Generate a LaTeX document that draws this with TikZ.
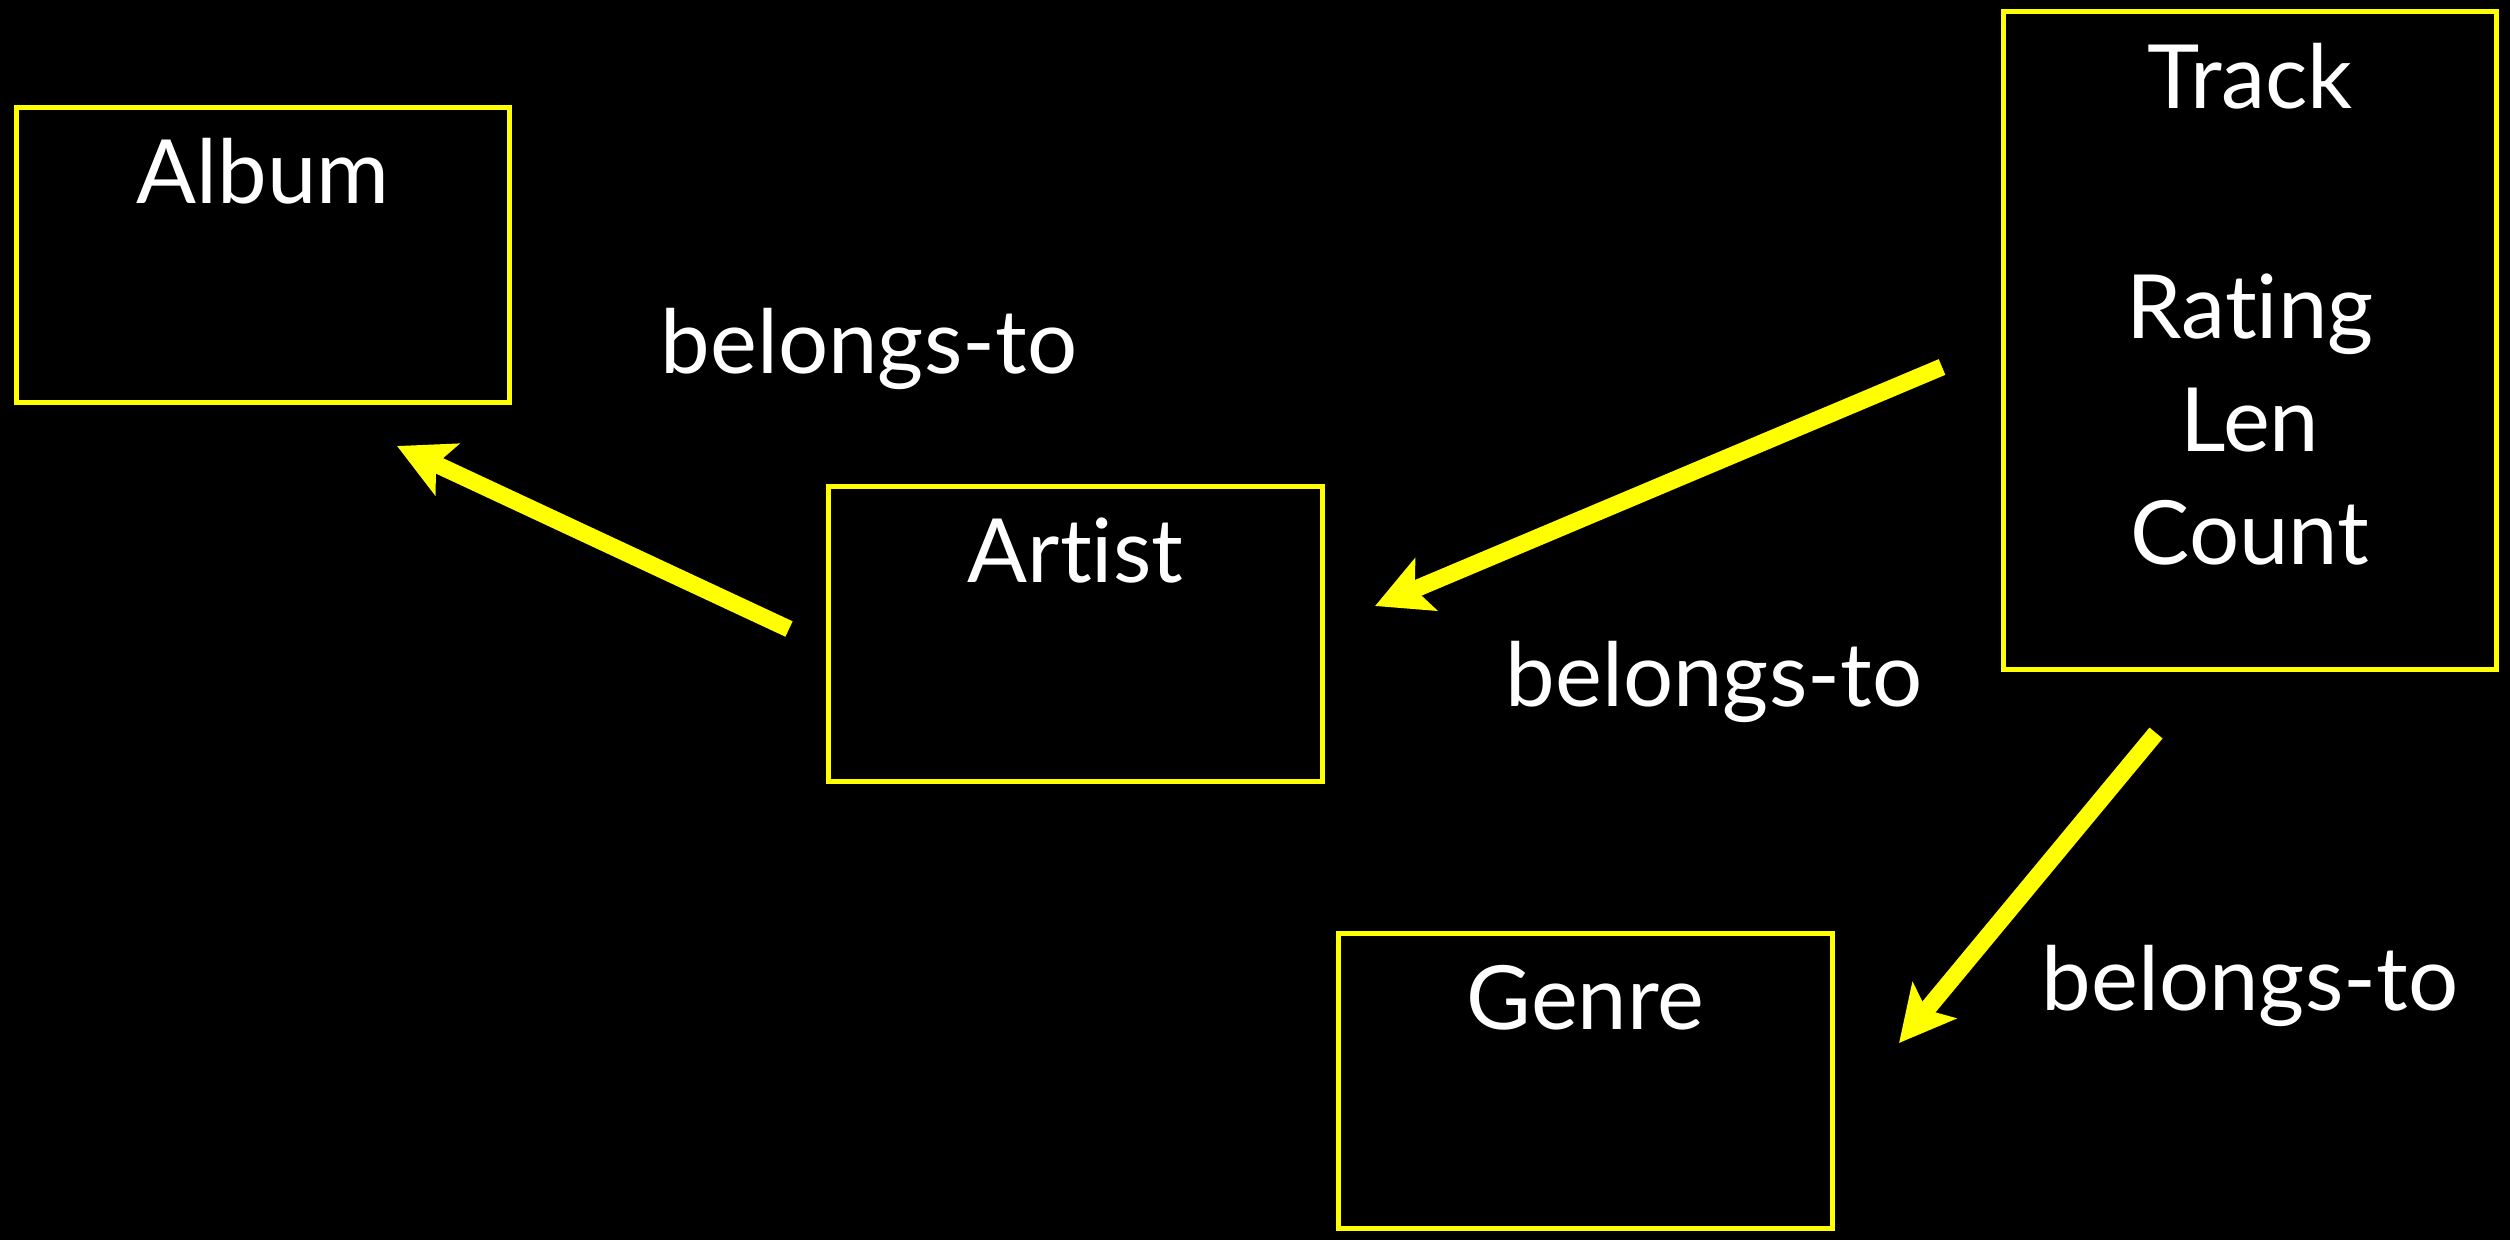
\documentclass[tikz,border=0pt]{standalone}
\usepackage{fontspec}
\setmainfont{Lato}[Ligatures={NoCommon,NoRequired,NoContextual}]
\usetikzlibrary{arrows.meta}
\definecolor{hl}{RGB}{255,255,0}
\begin{document}
\begin{tikzpicture}[x=0.01cm,y=-0.01cm,
  entity/.style={draw=hl, line width=0.05cm, fill=black, rectangle, inner sep=0pt, minimum width=4.935cm, minimum height=2.955cm},
  txt/.style={text=white, anchor=base, inner sep=0pt, font=\fontsize{25.2pt}{32pt}\selectfont},
  rel/.style={draw=hl, line width=0.17cm, -{Stealth[length=0.55cm, width=0.56cm, inset=0.12cm]}}
]
\useasboundingbox (0,0) rectangle (2510,1239);
\fill[black] (-20,-20) rectangle (2530,1259);

\node[entity] (album) at (263,255) {};
\node[entity] (artist) at (1075.5,634) {};
\node[entity] (genre) at (1585.5,1081) {};
\node[entity, minimum height=6.57cm] (track) at (2250,340.5) {};

\node[txt] (albumt) at (263,203) {Album};
\node[txt] (artistt) at (1075.5,582) {Artist};
\node[txt] (genret) at (1585.5,1029) {Genre};
\node[txt] (trackt) at (2250,108) {Track};
\node[txt] (rating) at (2250,338) {Rating};
\node[txt] (len) at (2250,451) {Len};
\node[txt] (count) at (2250,564) {Count};

\node[txt] (l1) at (869,373) {belongs-to};
\node[txt] (l2) at (1714,706) {belongs-to};
\node[txt] (l3) at (2250,1010) {belongs-to};

\coordinate (a1s) at (789,629);
\coordinate (a1e) at (397,446);
\coordinate (a2s) at (1942,367);
\coordinate (a2e) at (1375,606);
\coordinate (a3s) at (2156,733);
\coordinate (a3e) at (1899,1043);

\draw[rel] (a1s) -- (a1e);
\draw[rel] (a2s) -- (a2e);
\draw[rel] (a3s) -- (a3e);
\end{tikzpicture}
\end{document}
